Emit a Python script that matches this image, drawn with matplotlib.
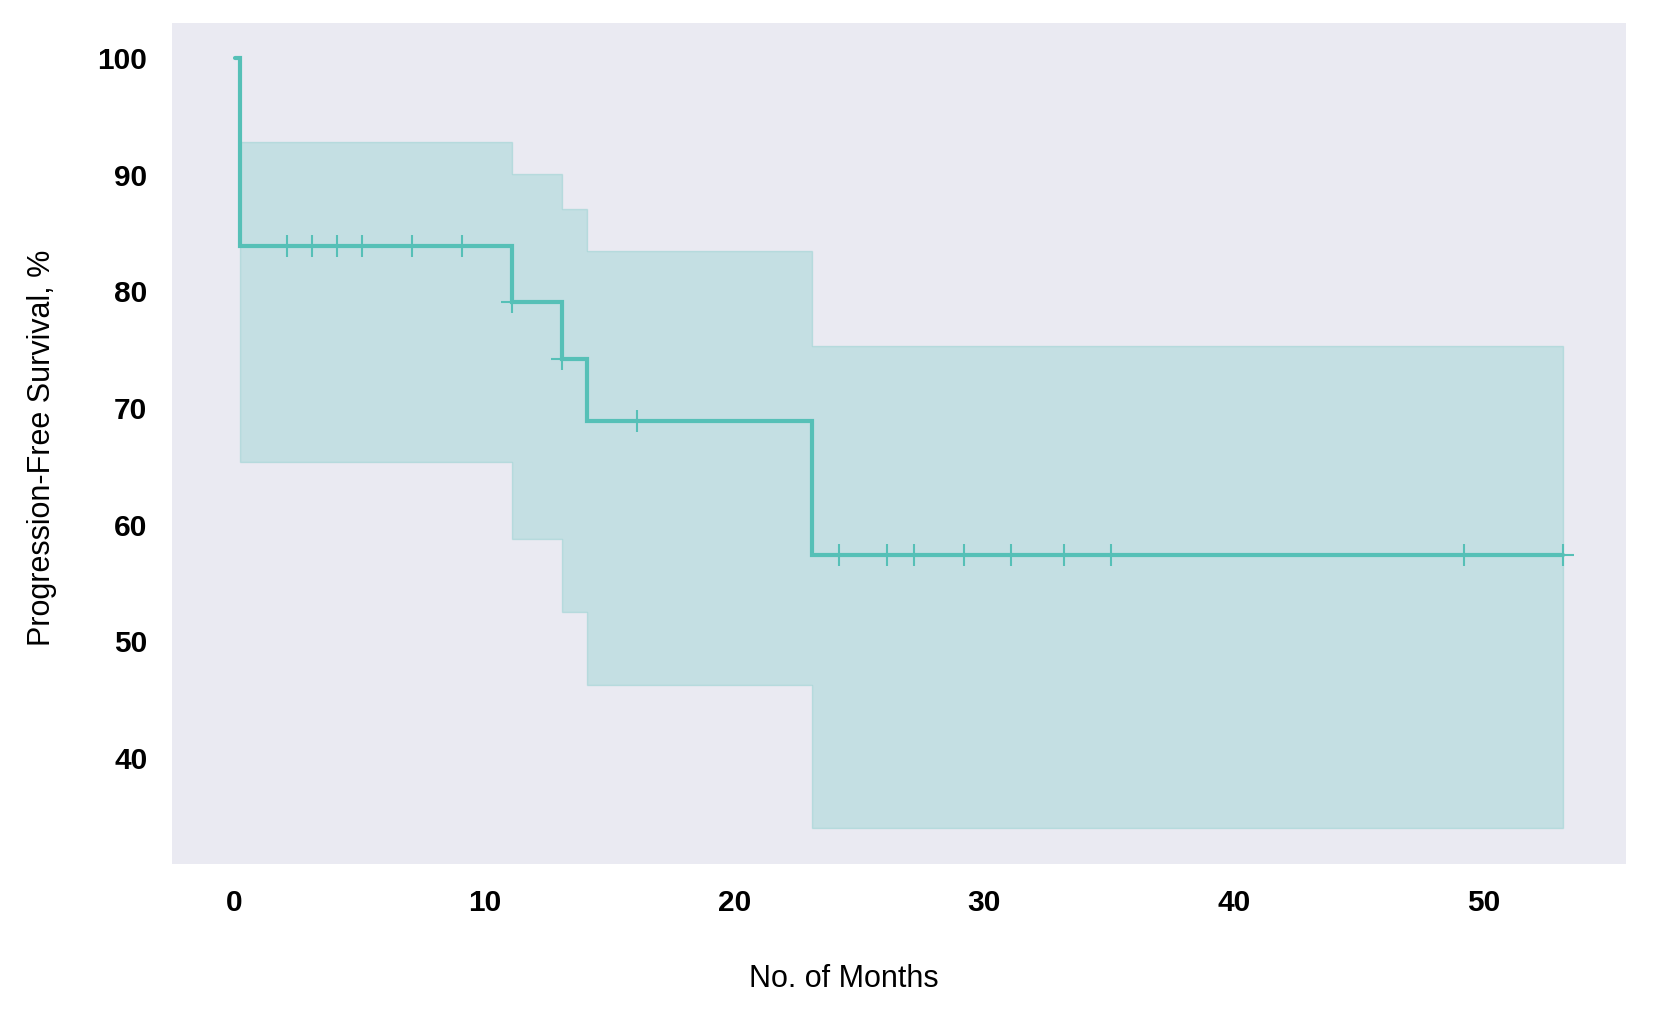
import numpy as np
import matplotlib
matplotlib.use("Agg")
import matplotlib.pyplot as plt

# ---- data ----
step_times = [0.0, 0.2, 11.1, 13.1, 14.1, 23.1]
survival   = [100.0, 83.9, 79.1, 74.2, 68.9, 57.4]
ci_upper   = [100.0, 92.8, 90.1, 87.1, 83.5, 75.3]
ci_lower   = [100.0, 65.4, 58.8, 52.5, 46.2, 34.0]
end_time = 53.2
censor_times = [2.1, 3.1, 4.1, 5.1, 7.1, 9.1, 11.1, 13.1, 16.1,
                24.2, 26.1, 27.2, 29.2, 31.1, 33.2, 35.1, 49.2, 53.2]
x_ticks = [0, 10, 20, 30, 40, 50]
y_ticks = [40, 50, 60, 70, 80, 90, 100]

line_color = "#56c0b7"
bg_color = "#eaeaf2"

fig = plt.figure(figsize=(16.57, 10.32), dpi=100)
ax = fig.add_axes([0.104, 0.1625, 0.8771, 0.8155])
ax.set_facecolor(bg_color)
for s in ax.spines.values():
    s.set_visible(False)

t = np.array(step_times + [end_time])
s_ = np.array(survival + [survival[-1]])
u_ = np.array(ci_upper + [ci_upper[-1]])
l_ = np.array(ci_lower + [ci_lower[-1]])

ax.fill_between(t, l_, u_, step="post", facecolor=line_color, alpha=0.25,
                edgecolor=line_color, linewidth=1.0)
ax.step(t, s_, where="post", color=line_color, lw=3.0, solid_joinstyle="miter",
        solid_capstyle="round")

ct = np.array(censor_times)
idx = np.searchsorted(np.array(step_times), ct, side="right") - 1
cs = np.array(survival)[idx]
ax.plot(ct, cs, linestyle="none", marker="+", markersize=16, mew=1.5,
        color=line_color)

ax.set_xlim(-2.49, 55.69)
ax.set_ylim(30.86, 103.04)
ax.set_xticks(x_ticks)
ax.set_yticks(y_ticks)
ax.tick_params(length=0, pad=18)
for lab in ax.get_xticklabels() + ax.get_yticklabels():
    lab.set_fontfamily("Liberation Sans")
    lab.set_fontweight("bold")
    lab.set_fontsize(21.5)

ax.set_xlabel("No. of Months", fontsize=22, family="Liberation Sans")
ax.set_ylabel("Progression-Free Survival, %", fontsize=22, family="Liberation Sans")
ax.xaxis.set_label_coords(0.4617, -0.1358)
ax.xaxis.label.set_va("center")
ax.yaxis.set_label_coords(-0.0897, 0.495)
ax.yaxis.label.set_va("center")

fig.savefig("out.png", dpi=100, facecolor="white")
